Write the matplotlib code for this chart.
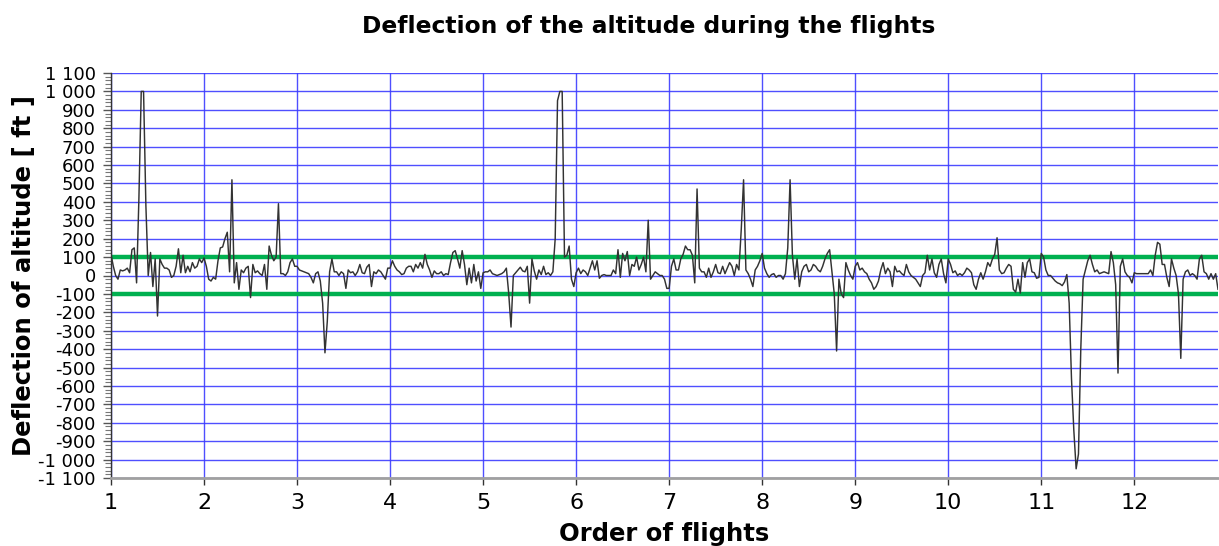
import numpy as np
import matplotlib
matplotlib.use("Agg")
import matplotlib.pyplot as plt
from matplotlib.ticker import MultipleLocator, FuncFormatter

# ---- data (deflection of altitude in ft, 40 samples per flight) ----
flight_1 = [115, 50, 0, -20, 30, 25, 30, 40, 15, 140, 150, -40, 420, 1000, 1000, 380, 0, 125, -60, 90,
            -220, 90, 60, 40, 40, 30, -10, 0, 50, 145, 15, 110, 15, 50, 20, 70, 40, 50, 90, 70]
flight_2 = [95, 50, -20, -30, -10, -20, 80, 150, 155, 200, 235, 20, 520, -40, 70, -75, 30, 15, 40, 50,
            -120, 60, 15, 25, 10, 0, 60, -75, 160, 110, 80, 100, 390, 10, 10, 0, 20, 70, 90, 50]
flight_3 = [50, 30, 25, 20, 15, 10, -10, -40, 10, 20, -30, -150, -420, -250, 20, 90, 20, 20, 0, 20,
            10, -70, 30, 15, 20, 0, 20, 60, 15, 10, 45, 60, -60, 20, 10, 30, 20, 0, -20, 40]
flight_4 = [40, 80, 50, 30, 20, 5, 10, 40, 50, 50, 20, 60, 40, 70, 40, 115, 60, 30, -10, 25,
            10, 10, 20, 0, 10, 5, 70, 125, 135, 90, 40, 135, 60, -50, 40, -40, 60, -30, 20, -70]
flight_5 = [15, 20, 20, 30, 10, 5, 0, 5, 10, 20, 40, -95, -280, 0, 15, 30, 45, 25, 20, 50,
            -150, 90, 25, -20, 30, 5, 50, 5, 15, 0, 20, 200, 950, 1000, 1000, 100, 110, 160, -20, -60]
flight_6 = [15, 40, 10, 30, 20, 0, 40, 80, 30, 80, -15, 0, 5, 0, 0, 0, 30, 10, 140, -10,
            120, 80, 130, 0, 60, 50, 100, 30, 60, 100, 20, 300, -20, 0, 20, 10, 0, 0, -20, -70]
flight_7 = [-70, 50, 90, 30, 30, 90, 115, 160, 140, 140, 110, -40, 470, 40, 20, 20, -10, 40, -10, 20,
            60, 15, 10, 50, 10, 40, 70, 50, 0, 60, 30, 250, 520, 30, 10, -20, -60, 30, 50, 80]
flight_8 = [120, 40, 10, -10, 5, 10, -10, 0, 0, -20, 10, 150, 520, 110, -20, 90, -60, 20, 50, 60,
            20, 30, 60, 50, 30, 20, 50, 90, 120, 140, 20, -100, -410, -20, -100, -120, 70, 30, 0, -20]
flight_9 = [50, 70, 30, 40, 20, 10, -20, -40, -75, -60, -30, 30, 70, 10, 40, 20, -60, 50, 20, 25,
            10, 0, 60, 20, 0, -10, -20, -40, -60, 0, 15, 110, 30, 90, 15, -10, 60, 90, 10, -40]
flight_10 = [90, 60, 15, 25, 0, 10, 0, 15, 40, 30, 15, -50, -75, -20, 15, -20, 20, 70, 50, 90,
             115, 205, 30, 10, 15, 40, 60, 50, -75, -90, -20, -95, 70, -10, 70, 90, 20, 15, -15, -10]
flight_11 = [120, 100, 30, 0, 0, -15, -30, -40, -45, -55, -35, 5, -150, -560, -840, -1050, -970, -400, -20, 30,
             80, 110, 60, 20, 30, 10, 15, 20, 15, 10, 130, 70, -50, -530, 50, 90, 20, 0, -10, -40]
flight_12 = [15, 10, 10, 10, 10, 10, 10, 30, 0, 110, 180, 170, 60, 60, -10, -60, 90, 40, 0, -100,
             -450, -20, 20, 30, 0, 10, 0, -20, 90, 110, 20, 10, -20, 10, -20, 10, -75]

flights = [flight_1, flight_2, flight_3, flight_4, flight_5, flight_6,
           flight_7, flight_8, flight_9, flight_10, flight_11, flight_12]
flight_numbers = list(range(1, 13))
samples_per_flight = 40
limit_values = [100, -100]

x = np.concatenate([k + np.arange(len(f)) / samples_per_flight
                    for k, f in zip(flight_numbers, flights)])
y = np.concatenate([np.array(f, dtype=float) for f in flights])

# ---- figure ----
W, H = 1219, 546
fig = plt.figure(figsize=(W / 100, H / 100), dpi=100)
ax = fig.add_axes([111 / W, 1 - 478 / H, (1218 - 111) / W, (478 - 73) / H])

ax.set_xlim(1, 12.9)
ax.set_ylim(-1100, 1100)
ax.set_xticks(flight_numbers)
ax.set_yticks(np.arange(-1100, 1101, 100))
ax.yaxis.set_minor_locator(MultipleLocator(20))

def fmt(v, pos):
    s = f"{abs(int(round(v))):,}".replace(",", " ")
    return ("-" if v < 0 else "") + s

ax.yaxis.set_major_formatter(FuncFormatter(fmt))

ax.grid(True, which="major", color="#3c3cff", linewidth=1.0, alpha=0.9)
ax.set_axisbelow(True)

for lv in limit_values:
    ax.axhline(lv, color="#00b050", linewidth=3.2, zorder=2)

ax.plot(x, y, color="#333333", linewidth=1.05, zorder=3)

for side in ["top", "right"]:
    ax.spines[side].set_visible(False)
ax.spines["left"].set_color("#333333")
ax.spines["left"].set_linewidth(1.0)
ax.spines["bottom"].set_color("#a0a0a0")
ax.spines["bottom"].set_linewidth(2.0)

ax.tick_params(axis="y", which="major", length=6, width=1, color="#555555",
               labelsize=13, pad=5)
ax.tick_params(axis="y", which="minor", length=4, width=0.8, color="#777777")
ax.tick_params(axis="x", which="major", length=5, width=1, color="#333333",
               labelsize=16, pad=6)

ax.set_xlabel("Order of flights", fontsize=17.5, fontweight="bold")
ax.xaxis.set_label_coords(0.5, -0.108)
ax.set_ylabel("Deflection of altitude [ ft ]", fontsize=17.5, fontweight="bold")
ax.yaxis.set_label_coords(-0.068, 0.5)

fig.text(649 / W, 1 - 27 / H, "Deflection of the altitude during the flights",
         ha="center", va="center", fontsize=16.8, fontweight="bold")

fig.savefig("out.png", dpi=100)
